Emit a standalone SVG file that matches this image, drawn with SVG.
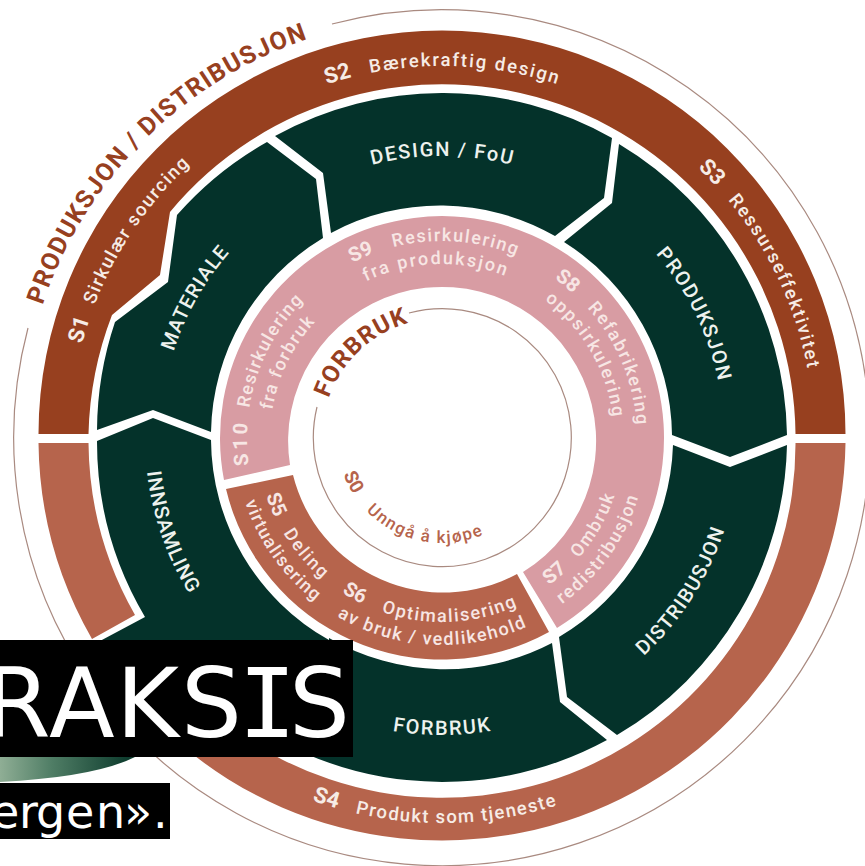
<svg xmlns="http://www.w3.org/2000/svg" width="865" height="866" viewBox="0 0 865 866">
<style>
text{font-family:"Roboto","Liberation Sans",sans-serif}
.brown{fill:#97401f}.terr{fill:#b6644c}.pink{fill:#d89ca3}.dark{fill:#04322a}
.thin{fill:none;stroke:#a98a80;stroke-width:1.2}
.lt{fill:#f6ece6;font-size:18.5px;font-weight:500}
.ltb{fill:#f6ece6;font-size:22px;font-weight:700}
.pk{fill:#f7e6e4;font-size:18px;font-weight:500}
.pkb{fill:#f7e6e4;font-size:20px;font-weight:700}
.nd{fill:#eef2ee;font-size:20px;font-weight:500}
.hd{fill:#97401f;font-size:25px;font-weight:700}
.hc{fill:#97401f;font-size:24px;font-weight:700}
.s0{fill:#b6644c;font-size:17px;font-weight:500}
.s0b{fill:#b6644c;font-size:19px;font-weight:700}
.bar{font-family:"DejaVu Sans",sans-serif;fill:#fff}
</style>
<defs>
<path id="c421" d="M21 438A421 421 0 0 1 863 438A421 421 0 0 1 21 438"/>
<path id="c372" d="M70 438A372 372 0 0 1 814 438A372 372 0 0 1 70 438"/>
<path id="c282" d="M160 438A282 282 0 0 1 724 438A282 282 0 0 1 160 438"/>
<path id="c197" d="M245 438A197 197 0 0 1 639 438A197 197 0 0 1 245 438"/>
<path id="c195" d="M247 438A195 195 0 0 1 637 438A195 195 0 0 1 247 438"/>
<path id="c174" d="M268 438A174 174 0 0 1 616 438A174 174 0 0 1 268 438"/>
<path id="c172" d="M270 438A172 172 0 0 1 614 438A172 172 0 0 1 270 438"/>
<path id="c120" d="M322 438A120 120 0 0 1 562 438A120 120 0 0 1 322 438"/>
<path id="s10" d="M248.9 465.1A195 195 0 0 1 247.7 421"/>
<path id="a385" d="M57 438A385 385 0 0 0 827 438"/>
<path id="a297" d="M145 438A297 297 0 0 0 739 438"/>
<path id="a207" d="M235 438A207 207 0 0 0 649 438"/>
<path id="a205" d="M237 438A205 205 0 0 0 647 438"/>
<path id="a185" d="M257 438A185 185 0 0 0 627 438"/>
<path id="a184" d="M258 438A184 184 0 0 0 626 438"/>
<path id="a182" d="M260 438A182 182 0 0 0 624 438"/>
<path id="a105" d="M337 438A105 105 0 0 0 547 438"/>
<linearGradient id="fade" gradientUnits="userSpaceOnUse" x1="0" y1="0" x2="130" y2="0">
<stop offset="0" stop-color="#8fae95"/><stop offset=".4" stop-color="#4f7d65"/><stop offset="1" stop-color="#0c3a2c"/>
</linearGradient>
</defs>

<rect width="865" height="866" fill="#fff"/>

<g id="connectors">
<path class="thin" d="M332 24A428 428 0 1 1 28 328"/>
<path class="thin" d="M409 313A129 129 0 1 1 317 407"/>
</g>

<g id="band-top">
<path class="brown" d="M38.5 434A403.5 403.5 0 0 1 845.5 434L795.5 434A353.5 353.5 0 0 0 170 212L160 275L112 315A353.5 353.5 0 0 0 88.5 434Z"/>
<text class="ltb"><textPath href="#c372" startOffset="95">S1</textPath></text>
<text class="lt"><textPath href="#c372" startOffset="136" textLength="171">Sirkulær sourcing</textPath></text>
<text class="ltb"><textPath href="#c372" startOffset="467">S2</textPath></text>
<text class="lt"><textPath href="#c372" startOffset="512" textLength="189">Bærekraftig design</textPath></text>
<text class="ltb"><textPath href="#c372" startOffset="866">S3</textPath></text>
<text class="lt"><textPath href="#c372" startOffset="910" textLength="188">Ressurseffektivitet</textPath></text>
<text class="hd"><textPath href="#c421" startOffset="135" textLength="389">PRODUKSJON / DISTRIBUSJON</textPath></text>
</g>

<g id="band-bottom">
<path class="terr" d="M38.5 443A403.5 403.5 0 0 0 92 639L135 615A353.5 353.5 0 0 1 88.5 443Z"/>
<path class="terr" d="M845.5 443A403.5 403.5 0 0 1 136 700L198 700A353.5 353.5 0 0 0 795.5 443Z"/>
<text class="ltb"><textPath href="#a385" startOffset="472">S4</textPath></text>
<text class="lt"><textPath href="#a385" startOffset="517" textLength="204">Produkt som tjeneste</textPath></text>
</g>

<g id="materiale">
<path class="dark" d="M97 430A345 345 0 0 1 115 322L168 282L177 215A345 345 0 0 1 267 142L316 179L323 238A231 231 0 0 0 211 432L153 410Z"/>
<text class="nd"><textPath href="#c282" startOffset="88" textLength="114">MATERIALE</textPath></text>
</g>
<g id="design">
<path class="dark" d="M275 136A345 345 0 0 1 612 138L604 198L555 236A231 231 0 0 0 331 233L323 173Z"/>
<text class="nd"><textPath href="#c282" startOffset="372" textLength="141">DESIGN / FoU</textPath></text>
</g>
<g id="produksjon">
<path class="dark" d="M619 144A345 345 0 0 1 787 435L730 457L672 435A231 231 0 0 0 564 242L612 203Z"/>
<text class="nd"><textPath href="#c282" startOffset="685" textLength="143">PRODUKSJON</textPath></text>
</g>
<g id="distribusjon">
<path class="dark" d="M787 445L730 467L673 445A231 231 0 0 1 559 637L567 697L617 735A345 345 0 0 0 787 445Z"/>
<text class="nd"><textPath href="#a297" startOffset="688" textLength="151">DISTRIBUSJON</textPath></text>
</g>
<g id="forbruk">
<path class="dark" d="M552 643L560 702L607 740A345 345 0 0 1 219 700L329 700L329 638A231 231 0 0 0 552 643Z"/>
<text class="nd"><textPath href="#a297" startOffset="416.5" textLength="99">FORBRUK</textPath></text>
</g>
<g id="innsamling">
<path class="dark" d="M97 441L153 418L211 440A231 231 0 0 0 329 640L329 700L100 700L100 641L145 617A345 345 0 0 1 97 441Z"/>
<text class="nd"><textPath href="#a297" startOffset="34" textLength="130">INNSAMLING</textPath></text>
</g>

<g id="ring-pink">
<path class="pink" d="M224 480A222 222 0 1 1 557 628L523 572A154 154 0 1 0 290 465Z"/>
<text class="pkb"><textPath href="#c197" startOffset="216">S9</textPath></text>
<text class="pk"><textPath href="#c197" startOffset="260" textLength="125">Resirkulering</textPath></text>
<text class="pk"><textPath href="#c174" startOffset="194.5" textLength="143">fra produksjon</textPath></text>
<text class="pkb"><textPath href="#c195" startOffset="426">S8</textPath></text>
<text class="pk"><textPath href="#c195" startOffset="470" textLength="129">Refabrikering</textPath></text>
<text class="pk"><textPath href="#c172" startOffset="380" textLength="139">oppsirkulering</textPath></text>
<text class="pkb"><textPath href="#s10" textLength="42">S10</textPath></text>
<text class="pk"><textPath href="#c195" startOffset="30" textLength="122">Resirkulering</textPath></text>
<text class="pk"><textPath href="#c172" startOffset="28" textLength="99">fra forbruk</textPath></text>
<text class="pkb"><textPath href="#a182" startOffset="400">S7</textPath></text>
<text class="pk"><textPath href="#a182" startOffset="440" textLength="72.5">Ombruk</textPath></text>
<text class="pk"><textPath href="#a205" startOffset="450" textLength="133.5">redistribusjon</textPath></text>
</g>

<g id="ring-terracotta">
<path class="terr" d="M226 489A222 222 0 0 0 549 632L517 574A155 155 0 0 1 293 475Z"/>
<text class="pkb"><textPath href="#a185" startOffset="58.5">S5</textPath></text>
<text class="pk"><textPath href="#a185" startOffset="99.8" textLength="60">Deling</textPath></text>
<text class="pk"><textPath href="#a207" startOffset="65" textLength="123">virtualisering</textPath></text>
<text class="pkb"><textPath href="#a184" startOffset="183">S6</textPath></text>
<text class="pk"><textPath href="#a184" startOffset="227" textLength="139">Optimalisering</textPath></text>
<text class="pk"><textPath href="#a207" startOffset="215" textLength="197">av bruk / vedlikehold</textPath></text>
</g>

<g id="center">
<text class="hc"><textPath href="#c120" startOffset="40.4" textLength="113.6">FORBRUK</textPath></text>
<text class="s0b"><textPath href="#a105" startOffset="37">S0</textPath></text>
<text class="s0"><textPath href="#a105" startOffset="80" textLength="127">Unngå å kjøpe</textPath></text>
</g>

<g id="overlay">
<path fill="url(#fade)" d="M0 750L145 750L135 757Q95 777 0 782Z"/>
<rect x="0" y="640" width="353" height="117" fill="#000"/>
<rect x="0" y="783" width="170" height="56" fill="#000"/>
<text class="bar" y="737" font-size="96"><tspan x="-16 49 116 181">RAKS</tspan><tspan x="238.6" style="font-family:'DejaVu Sans Mono',monospace">I</tspan><tspan x="289">S</tspan></text>
<text class="bar" y="828" font-size="46" x="-9 19 36 66 96 124 153">ergen».</text>
</g>
</svg>
